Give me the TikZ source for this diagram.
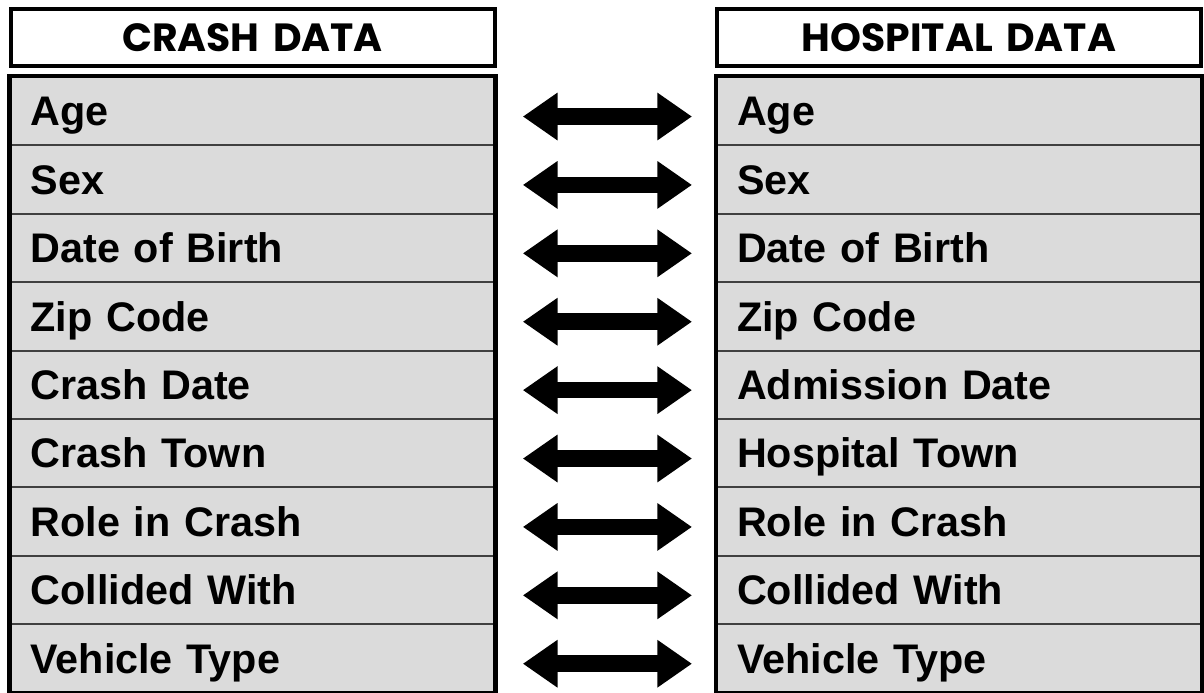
\documentclass[tikz,border=0pt]{standalone}
\usepackage{fontspec}
\setmainfont{Liberation Sans}
\newfontfamily\headfont[WordSpace={1.6}]{Poppins}
\usetikzlibrary{arrows.meta,positioning,fit}
\tikzstyle{header}=[rectangle,draw,line width=3pt,fill=white,minimum width=363pt,minimum height=42.75pt,inner sep=0pt,text height=21pt,text depth=0pt,font=\headfont\bfseries\fontsize{29.5}{32}\selectfont]
\tikzstyle{row}=[rectangle,draw=black!75,line width=1.5pt,fill=black!14,minimum height=51.3pt,text width=333pt,inner xsep=15pt,inner ysep=0pt,align=left,text height=22pt,text depth=0pt,font=\bfseries\fontsize{31}{33}\selectfont]
\tikzstyle{frame}=[draw,line width=3.5pt,inner sep=0pt]
\tikzstyle{link}=[draw,line width=12.5pt,{Triangle[length=26pt,width=34pt]}-{Triangle[length=26pt,width=34pt]},shorten <=20.5pt,shorten >=18pt]

\begin{document}
\begin{tikzpicture}[x=0.75pt,y=-0.75pt]
    \useasboundingbox (0,0) rectangle (1204,693);

    \node[header] (crash) at (252.5,37.5) {CRASH DATA};
    \node[header] (hospital) at (959,37.5) {HOSPITAL DATA};

    % Rows of both tables
    \foreach \i/\left/\right in {1/Age/Age, 2/Sex/Sex, 3/Date of Birth/Date of Birth,
        4/Zip Code/Zip Code, 5/Crash Date/Admission Date, 6/Crash Town/Hospital Town,
        7/Role in Crash/Role in Crash, 8/Collided With/Collided With, 9/Vehicle Type/Vehicle Type}
    {
        \node[row] (c\i) at (252.5,{111.2+(\i-1)*68.4}) {\left};
        \node[row] (h\i) at (959,{111.2+(\i-1)*68.4}) {\right};
    }

    \node[frame,fit=(c1)(c9)] (cbox) {};
    \node[frame,fit=(h1)(h9)] (hbox) {};

    % Matching fields
    \foreach \i in {1,...,9}
        \path[link] ([yshift=-4pt]c\i.east) -- ([yshift=-4pt]h\i.west);

\end{tikzpicture}
\end{document}
